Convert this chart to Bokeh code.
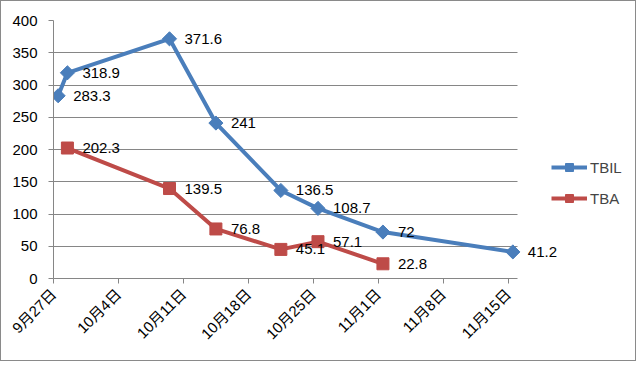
import math
import pandas as pd
from bokeh.plotting import figure
from bokeh.models import ColumnDataSource, FixedTicker, Legend, LegendItem, Range1d
from bokeh.core.properties import value
from bokeh.embed import file_html
from bokeh.resources import INLINE

start_date = "2013-09-27"
tbil_dates = ["2013-09-27", "2013-09-28", "2013-10-09", "2013-10-14",
              "2013-10-21", "2013-10-25", "2013-11-01", "2013-11-15"]
tbil_values = [283.3, 318.9, 371.6, 241, 136.5, 108.7, 72, 41.2]
tba_dates = ["2013-09-28", "2013-10-09", "2013-10-14", "2013-10-21",
             "2013-10-25", "2013-11-01"]
tba_values = [202.3, 139.5, 76.8, 45.1, 57.1, 22.8]
tick_dates = ["2013-09-27", "2013-10-04", "2013-10-11", "2013-10-18",
              "2013-10-25", "2013-11-01", "2013-11-08", "2013-11-15"]
tick_labels = ["9月27日", "10月4日", "10月11日", "10月18日",
               "10月25日", "11月1日", "11月8日", "11月15日"]
y_ticks = [0, 50, 100, 150, 200, 250, 300, 350, 400]

FONT = "'Liberation Sans', 'Noto Sans CJK SC', sans-serif"
BLUE = "#4A7EBB"
RED = "#BE4B48"
GRID = "#868686"


def day(d):
    return (pd.Timestamp(d) - pd.Timestamp(start_date)).days


tick_pos = [day(d) for d in tick_dates]
axis_end = tick_pos[-1] + 1
# Excel date axis: each point sits in the middle of its day
tbil_x = [day(d) + 0.5 for d in tbil_dates]
tba_x = [day(d) + 0.5 for d in tba_dates]

tbil_src = ColumnDataSource(dict(x=tbil_x, y=tbil_values,
                                 t=[f"{v:g}" for v in tbil_values]))
tba_src = ColumnDataSource(dict(x=tba_x, y=tba_values,
                                t=[f"{v:g}" for v in tba_values]))

W, H = 636, 361
left, right, top, bottom = 52, 8, 19, 84
plot_px = 464  # width of the dated part of the plot area
frame_w = W - left - right
x_end = axis_end * frame_w / plot_px

p = figure(width=W, height=H, output_backend="svg", toolbar_location=None,
           x_range=Range1d(0, x_end), y_range=Range1d(0, 400),
           min_border_left=left, min_border_right=right, min_border_top=top,
           min_border_bottom=bottom)
p.styles = {"border": "1px solid #8a8a8a"}
p.outline_line_color = None
p.background_fill_color = "white"
p.border_fill_color = "white"

p.xgrid.grid_line_color = None
if "cross_bounds" in p.ygrid[0].properties():
    p.ygrid.grid_line_color = GRID
    p.ygrid.ticker = FixedTicker(ticks=y_ticks)
    p.ygrid.cross_bounds = (0, axis_end)
else:
    p.ygrid.grid_line_color = None
    p.segment(x0=[0] * len(y_ticks), x1=[axis_end] * len(y_ticks),
              y0=y_ticks, y1=y_ticks, line_color=GRID, line_width=1)

p.yaxis.ticker = FixedTicker(ticks=y_ticks)
p.xaxis.ticker = FixedTicker(ticks=tick_pos)
p.xaxis.bounds = (0, axis_end)
p.xaxis.major_label_overrides = {t: l for t, l in zip(tick_pos, tick_labels)}
p.xaxis.major_label_orientation = math.pi / 4
for ax in (p.xaxis, p.yaxis):
    ax.axis_line_color = GRID
    ax.major_tick_line_color = GRID
    ax.major_tick_out = 5
    ax.major_tick_in = 0
    ax.minor_tick_line_color = None
    ax.major_label_text_font = FONT
    ax.major_label_text_font_size = "15px"
    ax.major_label_text_color = "black"
p.yaxis.major_label_standoff = 11
p.xaxis.major_label_standoff = 8

l1 = p.line("x", "y", source=tbil_src, line_color=BLUE, line_width=4)
m1 = p.scatter("x", "y", source=tbil_src, marker="square", size=10, angle=math.pi / 4,
               fill_color=BLUE, line_color=BLUE)
l2 = p.line("x", "y", source=tba_src, line_color=RED, line_width=4)
m2 = p.scatter("x", "y", source=tba_src, marker="square", size=12,
               fill_color=RED, line_color=RED)

for src in (tbil_src, tba_src):
    p.text("x", "y", text="t", source=src, x_offset=15, text_align="left",
           text_baseline="middle", text_font=value(FONT), text_font_size="15px",
           text_color="black")

legend = Legend(items=[LegendItem(label="TBIL", renderers=[l1, m1]),
                       LegendItem(label="TBA", renderers=[l2, m2])],
                location=(498, 70), border_line_color=None,
                background_fill_alpha=0, padding=0, margin=0,
                glyph_width=36, glyph_height=20, label_height=20,
                spacing=11, label_standoff=3,
                label_text_font=FONT, label_text_font_size="15px")
p.add_layout(legend)

open("out.html", "w").write(file_html(p, INLINE))
